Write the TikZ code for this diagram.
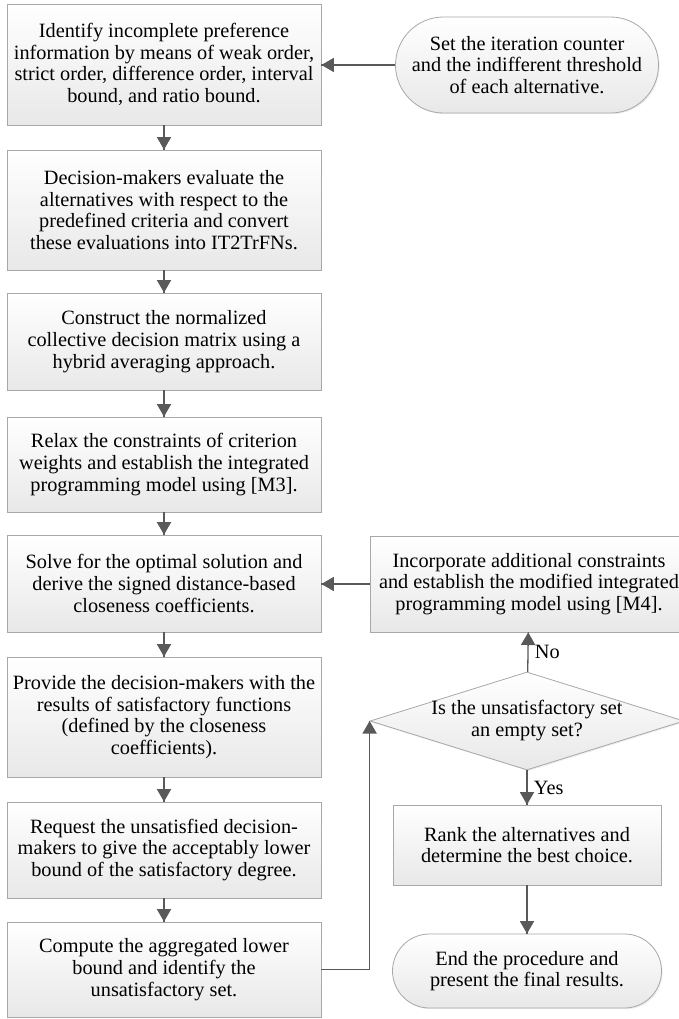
\documentclass[tikz,border=0pt]{standalone}
\usepackage{fontspec}
\setmainfont{Liberation Serif}
\usetikzlibrary{arrows}
\usetikzlibrary{decorations.markings}
\usetikzlibrary{shapes.geometric}
\usetikzlibrary{shapes.misc}
\usetikzlibrary{shadows}
\definecolor{linegray}{HTML}{595959}
\definecolor{edgegray}{HTML}{A8A8A8}
\definecolor{fillgray}{HTML}{E8E8E8}
\tikzset{->/.style = {decoration={markings,
                                  mark=at position 1 with {\arrow[scale=1.5]{triangle 60}}},
                      postaction={decorate}}}
\tikzset{flow/.style = {draw=linegray, line width=1.3pt}}
\tikzset{box/.style = {draw=edgegray, line width=0.8pt, top color=white, bottom color=fillgray,
                       align=center, inner sep=0, font=\fontsize{20.3}{21.7}\selectfont,
                       drop shadow={shadow xshift=1.2pt, shadow yshift=-1.2pt, opacity=0.15}}}
\tikzset{term/.style = {box, rounded rectangle}}
\tikzset{decide/.style = {box, diamond}}
\tikzset{tag/.style = {font=\fontsize{20.3}{21.7}\selectfont, right, xshift=3pt}}

\begin{document}
\begin{tikzpicture}[x=1pt, y=-1pt]
    \clip (0, 0) rectangle (679, 1019);
    % main column
    \node [box, minimum width=314pt, minimum height=121pt] (b1) at (164, 64.5)
      {Identify incomplete preference\\ information by means of weak order,\\ strict order, difference order, interval\\ bound, and ratio bound.};
    \node [box, minimum width=314pt, minimum height=120pt] (b2) at (164, 210)
      {Decision-makers evaluate the\\ alternatives with respect to the\\ predefined criteria and convert\\ these evaluations into IT2TrFNs.};
    \node [box, minimum width=314pt, minimum height=97pt] (b3) at (164, 341.5)
      {Construct the normalized\\ collective decision matrix using a\\ hybrid averaging approach.};
    \node [box, minimum width=314pt, minimum height=95pt] (b4) at (164, 464.5)
      {Relax the constraints of criterion\\ weights and establish the integrated\\ programming model using [M3].};
    \node [box, minimum width=314pt, minimum height=97pt] (b5) at (164, 583.5)
      {Solve for the optimal solution and\\ derive the signed distance-based\\ closeness coefficients.};
    \node [box, minimum width=314pt, minimum height=120pt] (b6) at (164, 717)
      {Provide the decision-makers with the\\ results of satisfactory functions\\ (defined by the closeness\\ coefficients).};
    \node [box, minimum width=314pt, minimum height=96pt] (b7) at (164, 850)
      {Request the unsatisfied decision-\\ makers to give the acceptably lower\\ bound of the satisfactory degree.};
    \node [box, minimum width=314pt, minimum height=95pt] (b8) at (164, 969.5)
      {Compute the aggregated lower\\ bound and identify the\\ unsatisfactory set.};
    % right column
    \node [term, minimum width=263pt, minimum height=96pt] (set) at (527, 65)
      {Set the iteration counter\\ and the indifferent threshold\\ of each alternative.};
    \node [box, minimum width=318pt, minimum height=96pt] (incorp) at (529, 584)
      {Incorporate additional constraints\\ and establish the modified integrated\\ programming model using [M4].};
    \node [decide, minimum width=314pt, minimum height=98pt] (check) at (527, 721)
      {\makebox[0pt]{\begin{tabular}{@{}c@{}}Is the unsatisfactory set\\ an empty set?\end{tabular}}};
    \node [box, minimum width=268pt, minimum height=80pt] (rank) at (527, 845)
      {Rank the alternatives and\\ determine the best choice.};
    \node [term, minimum width=269pt, minimum height=74pt] (stop) at (527, 971)
      {End the procedure and\\ present the final results.};
    % connectors
    \draw [flow, ->] (set.west) -- (set.west -| b1.east);
    \draw [flow, ->] (b1) -- (b2);
    \draw [flow, ->] (b2) -- (b3);
    \draw [flow, ->] (b3) -- (b4);
    \draw [flow, ->] (b4) -- (b5);
    \draw [flow, ->] (b5) -- (b6);
    \draw [flow, ->] (b6) -- (b7);
    \draw [flow, ->] (b7) -- (b8);
    \draw [flow, ->] (incorp.west) -- (incorp.west -| b5.east);
    \draw [flow, ->] (check) -- (incorp) node [midway, tag] {No};
    \draw [flow, ->] (check) -- (rank) node [midway, tag] {Yes};
    \draw [flow, ->] (rank) -- (stop);
    \draw [flow, ->] (b8.east) -| (check.west);
  \end{tikzpicture}
\end{document}
